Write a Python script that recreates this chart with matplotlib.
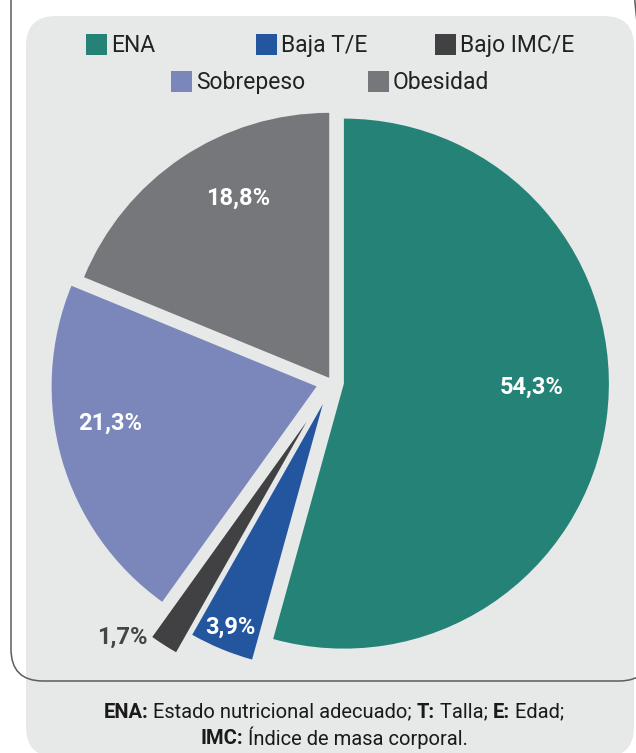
import numpy as np
import matplotlib
matplotlib.use('Agg')
import matplotlib.pyplot as plt
from matplotlib.patches import FancyBboxPatch, Rectangle

plt.rcParams['font.family'] = ['Roboto', 'DejaVu Sans']

# Data
categories = ['ENA', 'Baja T/E', 'Bajo IMC/E', 'Sobrepeso', 'Obesidad']
values = [54.3, 3.9, 1.7, 21.3, 18.8]
value_labels = ['54,3%', '3,9%', '1,7%', '21,3%', '18,8%']
colors = ['#248276', '#2456a0', '#414143', '#7b87bb', '#76777b']

# footer lines as (text, bold) pieces
note_line1 = [('ENA:', True), (' Estado nutricional adecuado; ', False), ('T:', True),
              (' Talla; ', False), ('E:', True), (' Edad;', False)]
note_line2 = [('IMC:', True), (' Índice de masa corporal.', False)]

# styling per slice
explode = [12, 24, 47, 16, 5]
label_dist = [0.71, 0.91, 1.07, 0.79, 0.76]
label_nudge = [6.5, 0, -8, -6, -7]
label_colors = ['white', 'white', '#454545', 'white', 'white']

W, H = 636, 753
fig = plt.figure(figsize=(W / 100, H / 100), dpi=100)
fig.patch.set_facecolor('white')
ax = fig.add_axes([0, 0, 1, 1])

def Y(y):
    return H - y

# background panel and outline
ax.add_patch(FancyBboxPatch((26, Y(757)), 608, 741, boxstyle='round,pad=0,rounding_size=30',
                            fc='#e6e9e8', ec='none', zorder=0))
ax.add_patch(FancyBboxPatch((11, Y(681)), 640, 740, boxstyle='round,pad=0,rounding_size=32',
                            fc='none', ec='#5c5c5c', lw=1.1, zorder=1))

wedges, _ = ax.pie(values, colors=colors, startangle=90, counterclock=False,
                   radius=265, center=(332, Y(382)), explode=explode,
                   wedgeprops=dict(linewidth=0))
for w in wedges:
    w.set_zorder(2)

for w, lab, f, nd, c in zip(wedges, value_labels, label_dist, label_nudge, label_colors):
    mid = np.deg2rad((w.theta1 + w.theta2) / 2 + nd)
    cx, cy = w.center
    ax.text(cx + f * w.r * np.cos(mid), cy + f * w.r * np.sin(mid), lab,
            ha='center', va='center', fontsize=17, fontweight='bold', color=c, zorder=3)

# legend drawn by hand
legend_pos = [(86, 44.5), (256, 44.5), (435, 44.5), (171, 81.5), (368, 81.5)]
for (lx, ly), name, c in zip(legend_pos, categories, colors):
    ax.add_patch(Rectangle((lx, Y(ly) - 10.5), 21, 21, fc=c, ec='none', zorder=3))
    ax.text(lx + 25, Y(ly) - 1, name, fontsize=16.5, color='#222222', va='center', ha='left')

ax.set_xlim(0, W)
ax.set_ylim(0, H)
ax.set_aspect('equal')
ax.axis('off')

# footer, mixed bold / regular pieces centred on one line
renderer = fig.canvas.get_renderer()

def note(pieces, xc, yc, size=14.5):
    texts = []
    for s, b in pieces:
        t = ax.text(0, yc, s, fontsize=size, color='#1a1a1a', va='center', ha='left',
                    fontweight='bold' if b else 'normal')
        texts.append(t)
    widths = [t.get_window_extent(renderer).width for t in texts]
    x = xc - sum(widths) / 2
    for t, wd in zip(texts, widths):
        t.set_x(x)
        x += wd

note(note_line1, 334, Y(712))
note(note_line2, 334, Y(738))

fig.savefig('out.png', dpi=100)
